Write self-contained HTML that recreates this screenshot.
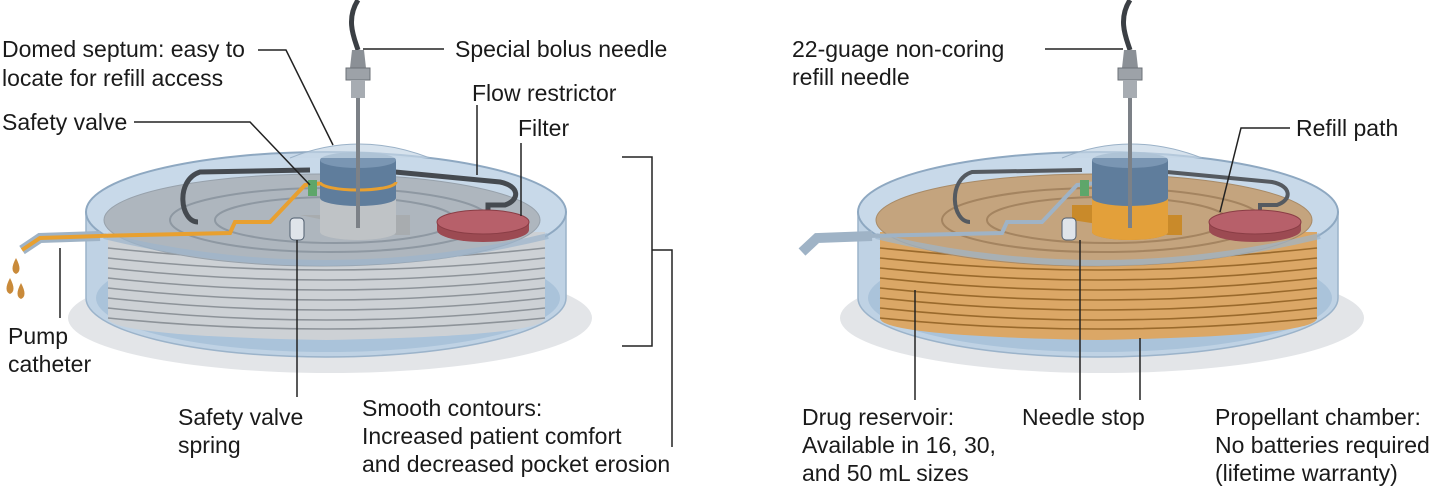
<!DOCTYPE html>
<html><head><meta charset="utf-8"><style>
html,body{margin:0;padding:0;background:#fff;}
svg{display:block}
text{font-family:"Liberation Sans",Arial,sans-serif;font-size:23px;fill:#1a1a1a}
</style></head><body>
<svg width="1432" height="487" viewBox="0 0 1432 487" xmlns="http://www.w3.org/2000/svg">
<defs>
<g id="pump">
  <ellipse cx="330" cy="318" rx="262" ry="55" fill="#e3e5e8"/>
  <path d="M86,212 L86,298 A240,59 0 0 0 566,298 L566,212 Z" fill="#bfd2e4" stroke="#9bb3ca" stroke-width="1.5"/>
  <ellipse cx="328" cy="298" rx="232" ry="54" fill="#aac3da"/>
</g>
<g id="topring">
  <ellipse cx="326" cy="212" rx="240" ry="60" fill="#c8d9e9" stroke="#8ea8c1" stroke-width="2"/>
</g>
<g id="stripes" fill="none" stroke-width="1.6">
<path d="M108,248 Q326,272 545,248"/>
<path d="M108,258 Q326,282 545,258"/>
<path d="M108,268 Q326,292 545,268"/>
<path d="M108,278 Q326,302 545,278"/>
<path d="M108,288 Q326,312 545,288"/>
<path d="M108,298 Q326,322 545,298"/>
<path d="M108,308 Q326,332 545,308"/>
<path d="M108,318 Q326,340 545,318"/>
</g>
</defs>

<!-- LEFT PUMP -->
<use href="#pump"/>
<use href="#topring"/>
<path d="M108,232 L545,232 L545,318 Q545,336 326,340 Q108,336 108,318 Z" fill="#cdd1d5"/>
<use href="#stripes" stroke="#8d9399"/>
<ellipse cx="322" cy="220" rx="218" ry="46" fill="#aeb6be" stroke="#97a1ab"/>
<path d="M104,236 Q326,290 548,236" fill="none" stroke="#9db5cc" stroke-width="6" opacity="0.7"/>
<ellipse cx="330" cy="220" rx="160" ry="32" fill="none" stroke="#8e98a2" stroke-width="2"/>
<ellipse cx="335" cy="220" rx="120" ry="23" fill="none" stroke="#8e98a2" stroke-width="2"/>
<path d="M198,222 C180,222 175,180 200,172 L310,170" fill="none" stroke="#454a50" stroke-width="5"/>
<path d="M395,172 L500,182 C520,186 520,200 505,205 L488,205 L488,215" fill="none" stroke="#454a50" stroke-width="5"/>
<path d="M95,236 L230,233 L235,222 L270,222 L305,185 L325,183" fill="none" stroke="#e8a030" stroke-width="4"/>
<path d="M22,250 L40,238 L100,236" fill="none" stroke="#9fb3c6" stroke-width="10"/>
<path d="M22,250 L40,238 L100,236" fill="none" stroke="#e8a030" stroke-width="4"/>
<path d="M16,258 q-7,13 0,16 q7,-3 0,-16z M10,278 q-7,13 0,16 q7,-3 0,-16z M21,283 q-7,13 0,16 q7,-3 0,-16z" fill="#c98a3a"/>
<path d="M437,222 L437,230 A46,12 0 0 0 529,230 L529,222 Z" fill="#9c4a52"/>
<ellipse cx="483" cy="222" rx="46" ry="12" fill="#b7606a" stroke="#8a3d45"/>
<path d="M300,215 L320,215 L320,232 A38,8 0 0 0 396,232 L396,215 L410,215 L410,235 L396,235 Z" fill="#a8acaf"/>
<path d="M320,195 L320,232 A38,8 0 0 0 396,232 L396,195 Z" fill="#bfc3c6"/>
<path d="M320,160 L320,198 A38,8 0 0 0 396,198 L396,160 Z" fill="#5f7d9c"/>
<ellipse cx="358" cy="160" rx="38" ry="8" fill="#7a96b3"/>
<path d="M320,182 A38,8 0 0 0 396,182" fill="none" stroke="#e8a030" stroke-width="3"/>
<rect x="308" y="180" width="9" height="16" fill="#5ea66a"/>
<rect x="290" y="218" width="14" height="22" rx="4" fill="#dfe4ea" stroke="#4f5d6e"/>
<path d="M290,158 Q358,130 430,158" fill="#c5d6e6" fill-opacity="0.7" stroke="#9ab1c7"/>
<path d="M358,0 C345,20 355,40 358,50" fill="none" stroke="#3b3f44" stroke-width="5"/>
<path d="M352,50 L364,50 L366,68 L350,68Z" fill="#8b9096"/>
<rect x="346" y="68" width="24" height="12" fill="#9da2a8" stroke="#6c7177"/>
<rect x="351" y="80" width="14" height="18" fill="#a7acb2"/>
<line x1="358" y1="98" x2="358" y2="228" stroke="#7c8187" stroke-width="4"/>

<!-- RIGHT PUMP -->
<g transform="translate(772,0)">
<use href="#pump"/>
<use href="#topring"/>
<path d="M108,232 L545,232 L545,318 Q545,336 326,340 Q108,336 108,318 Z" fill="#dba766"/>
<use href="#stripes" stroke="#9a6a2c"/>
<ellipse cx="322" cy="220" rx="218" ry="46" fill="#c4a47e" stroke="#a88a66"/>
<path d="M104,236 Q326,290 548,236" fill="none" stroke="#9db5cc" stroke-width="6" opacity="0.7"/>
<ellipse cx="330" cy="220" rx="160" ry="32" fill="none" stroke="#a48460" stroke-width="2"/>
<ellipse cx="335" cy="220" rx="120" ry="23" fill="none" stroke="#a48460" stroke-width="2"/>
<path d="M198,222 C180,222 175,180 200,172 L310,170" fill="none" stroke="#555a60" stroke-width="4"/>
<path d="M395,172 L500,182 C520,186 520,200 505,205 L488,205 L488,215" fill="none" stroke="#555a60" stroke-width="4"/>
<path d="M95,236 L230,233 L235,222 L270,222 L305,185 L325,183" fill="none" stroke="#9fb3c6" stroke-width="4"/>
<path d="M30,252 L45,238 L100,236" fill="none" stroke="#9fb3c6" stroke-width="10"/>
<path d="M437,222 L437,230 A46,12 0 0 0 529,230 L529,222 Z" fill="#9c4a52"/>
<ellipse cx="483" cy="222" rx="46" ry="12" fill="#b7606a" stroke="#8a3d45"/>
<path d="M300,205 L320,205 L320,232 A38,8 0 0 0 396,232 L396,215 L410,215 L410,235 L396,235 L300,220 Z" fill="#c98a2a"/>
<path d="M320,195 L320,232 A38,8 0 0 0 396,232 L396,195 Z" fill="#e3a03a"/>
<path d="M320,160 L320,198 A38,8 0 0 0 396,198 L396,160 Z" fill="#5f7d9c"/>
<ellipse cx="358" cy="160" rx="38" ry="8" fill="#7a96b3"/>
<rect x="308" y="180" width="9" height="16" fill="#5ea66a"/>
<rect x="290" y="218" width="14" height="22" rx="4" fill="#dfe4ea" stroke="#4f5d6e"/>
<path d="M290,158 Q358,130 430,158" fill="#c5d6e6" fill-opacity="0.7" stroke="#9ab1c7"/>
<path d="M358,0 C345,20 355,40 358,50" fill="none" stroke="#3b3f44" stroke-width="5"/>
<path d="M352,50 L364,50 L366,68 L350,68Z" fill="#8b9096"/>
<rect x="346" y="68" width="24" height="12" fill="#9da2a8" stroke="#6c7177"/>
<rect x="351" y="80" width="14" height="18" fill="#a7acb2"/>
<line x1="358" y1="98" x2="358" y2="228" stroke="#7c8187" stroke-width="4"/>
</g>

<g stroke="#222" stroke-width="1.5" fill="none">
<polyline points="258,50 286,50 333,145"/>
<polyline points="134,122 250,122 310,185"/>
<line x1="363" y1="49" x2="444" y2="49"/>
<polyline points="477,105 477,175"/>
<line x1="521" y1="143" x2="521" y2="216"/>
<polyline points="622,157 652,157 652,346 622,346"/>
<polyline points="652,250 672,250 672,447"/>
<line x1="60" y1="248" x2="60" y2="318"/>
<line x1="297" y1="240" x2="297" y2="397"/>
<line x1="1045" y1="49" x2="1123" y2="49"/>
<polyline points="1290,128 1241,128 1220,212"/>
<line x1="915" y1="290" x2="915" y2="400"/>
<line x1="1080" y1="240" x2="1080" y2="400"/>
<line x1="1140" y1="338" x2="1140" y2="400"/>
</g>

<text x="2" y="57">Domed septum: easy to</text>
<text x="2" y="86">locate for refill access</text>
<text x="2" y="130">Safety valve</text>
<text x="455" y="57">Special bolus needle</text>
<text x="472" y="101">Flow restrictor</text>
<text x="518" y="136">Filter</text>
<text x="8" y="344">Pump</text>
<text x="8" y="372">catheter</text>
<text x="178" y="425">Safety valve</text>
<text x="178" y="453">spring</text>
<text x="362" y="416">Smooth contours:</text>
<text x="362" y="444">Increased patient comfort</text>
<text x="362" y="472">and decreased pocket erosion</text>
<text x="792" y="57">22-guage non-coring</text>
<text x="792" y="85">refill needle</text>
<text x="1296" y="136">Refill path</text>
<text x="802" y="425">Drug reservoir:</text>
<text x="802" y="453">Available in 16, 30,</text>
<text x="802" y="481">and 50 mL sizes</text>
<text x="1022" y="425">Needle stop</text>
<text x="1215" y="425">Propellant chamber:</text>
<text x="1215" y="453">No batteries required</text>
<text x="1215" y="481">(lifetime warranty)</text>
</svg>
</body></html>
